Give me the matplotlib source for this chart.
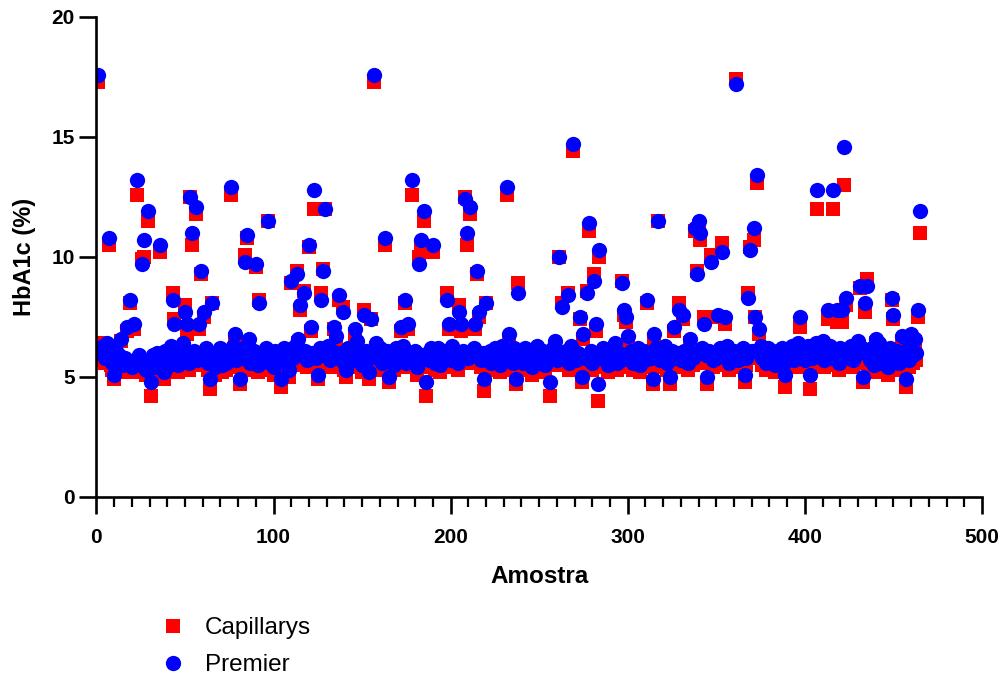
import matplotlib
matplotlib.use("Agg")
import matplotlib.pyplot as plt
import numpy as np

plt.rcParams['font.family'] = ['Liberation Sans', 'DejaVu Sans']

# HbA1c (%) per sample (rows of 15 samples)
capillarys = [
    17.3, 6.4, 5.7, 6.1, 5.6, 6.2, 10.5, 5.5, 5.3, 4.9, 5.8, 5.4, 5.6, 6.5, 5.2,
    5.5, 6.9, 5.3, 8.1, 5.2, 7.0, 5.4, 12.6, 5.6, 5.2, 9.9, 10.0, 5.1, 11.5, 5.5,
    4.2, 5.6, 5.1, 5.7, 5.3, 10.2, 5.5, 4.9, 5.9, 5.4, 5.2, 6.1, 8.5, 7.4, 5.6,
    5.2, 5.8, 5.4, 6.2, 8.0, 6.8, 5.3, 12.5, 10.5, 5.8, 11.8, 5.5, 7.0, 9.3, 5.6,
    7.5, 6.0, 5.3, 4.5, 8.1, 5.5, 5.1, 5.7, 5.5, 5.9, 5.2, 5.7, 5.3, 5.8, 5.6,
    12.6, 6.1, 6.6, 5.4, 5.8, 4.7, 5.5, 6.0, 10.1, 10.8, 6.4, 5.3, 5.6, 5.9, 9.6,
    5.2, 8.2, 5.6, 5.7, 5.4, 6.0, 11.5, 5.3, 5.7, 5.1, 5.8, 5.5, 5.6, 4.6, 5.5,
    5.9, 5.4, 5.7, 5.0, 8.9, 5.5, 6.1, 9.4, 6.4, 7.8, 5.6, 8.6, 5.9, 5.4, 10.4,
    6.9, 5.8, 12.0, 5.5, 4.9, 6.0, 8.5, 9.5, 12.0, 5.6, 6.0, 5.4, 5.9, 7.0, 6.5,
    5.5, 8.2, 5.7, 7.9, 5.3, 5.0, 5.9, 5.6, 5.8, 5.4, 6.8, 6.3, 5.6, 5.7, 5.2,
    7.8, 5.8, 5.4, 4.9, 7.4, 5.7, 17.3, 6.2, 5.5, 5.9, 5.3, 5.7, 10.5, 5.8, 4.8,
    5.5, 5.7, 5.3, 6.0, 5.4, 5.6, 6.9, 6.0, 8.1, 5.4, 7.0, 5.7, 12.6, 5.5, 5.8,
    5.1, 10.0, 10.5, 5.6, 11.5, 4.2, 5.8, 5.4, 5.9, 10.2, 5.3, 5.7, 6.0, 5.2, 5.8,
    5.5, 5.9, 8.5, 7.0, 5.4, 6.1, 5.6, 5.7, 5.3, 8.0, 6.9, 5.8, 12.5, 10.5, 5.6,
    11.8, 5.6, 5.9, 7.0, 9.3, 7.5, 5.4, 5.8, 4.4, 8.1, 5.5, 5.8, 5.3, 5.7, 5.9,
    5.4, 5.7, 5.2, 6.0, 5.6, 5.8, 12.6, 6.6, 5.6, 5.3, 5.9, 4.7, 8.9, 5.5, 5.8,
    5.3, 6.0, 5.6, 5.4, 5.9, 5.1, 5.7, 5.5, 6.0, 5.4, 5.6, 5.8, 5.2, 5.6, 5.7,
    4.2, 5.6, 5.9, 6.3, 5.5, 10.0, 5.7, 8.1, 5.5, 5.8, 8.5, 5.3, 6.0, 14.4, 5.6,
    5.4, 5.8, 7.4, 4.8, 6.6, 5.5, 8.6, 11.1, 5.8, 5.3, 9.3, 6.9, 4.0, 10.0, 5.6,
    5.9, 5.4, 5.7, 5.2, 5.6, 5.8, 5.5, 6.2, 5.3, 5.8, 5.4, 9.0, 7.6, 7.3, 6.5,
    5.6, 5.9, 5.3, 5.7, 5.5, 6.0, 5.2, 5.6, 5.8, 5.4, 8.1, 5.7, 5.5, 4.7, 6.6,
    5.9, 11.5, 5.4, 5.8, 5.5, 6.0, 5.3, 5.7, 4.7, 5.8, 6.9, 5.5, 5.7, 8.1, 5.4,
    7.4, 5.8, 5.6, 5.3, 6.4, 5.7, 5.5, 11.1, 9.4, 11.3, 10.7, 5.9, 7.5, 5.6, 4.7,
    5.8, 10.1, 5.4, 5.8, 5.5, 7.5, 5.9, 10.6, 5.6, 7.2, 6.1, 5.3, 5.7, 5.5, 5.9,
    17.4, 5.4, 5.7, 5.6, 5.9, 4.8, 5.5, 8.5, 10.4, 5.8, 10.7, 7.5, 13.1, 6.8, 6.0,
    5.5, 5.7, 5.3, 5.9, 5.6, 5.4, 5.8, 5.2, 5.6, 5.7, 5.4, 6.0, 5.3, 4.6, 5.6,
    5.8, 5.5, 6.0, 5.4, 5.8, 6.2, 7.1, 5.6, 5.9, 5.4, 5.7, 6.1, 4.5, 5.5, 5.8,
    6.1, 12.0, 5.6, 5.9, 6.2, 5.4, 5.8, 7.4, 6.0, 5.5, 12.0, 5.8, 7.3, 5.3, 5.9,
    7.3, 13.0, 8.0, 5.7, 5.5, 6.0, 5.4, 5.8, 5.6, 6.3, 8.7, 5.9, 4.8, 7.7, 9.1,
    5.7, 5.4, 5.9, 5.2, 6.4, 5.6, 6.2, 5.3, 5.8, 5.5, 5.7, 5.1, 5.9, 8.2, 7.4,
    5.6, 5.8, 5.3, 5.7, 6.5, 5.5, 4.6, 5.9, 5.4, 6.6, 5.6, 6.4, 5.7, 7.5, 11.0,
]

premier = [
    17.6, 6.2, 6.0, 6.3, 5.8, 6.4, 10.8, 5.9, 5.6, 5.1, 6.1, 5.7, 5.9, 6.6, 5.5,
    5.8, 7.1, 5.6, 8.2, 5.4, 7.2, 5.7, 13.2, 5.9, 5.5, 9.7, 10.7, 5.3, 11.9, 5.7,
    4.8, 5.9, 5.4, 6.0, 5.6, 10.5, 5.8, 5.2, 6.1, 5.7, 5.5, 6.3, 8.2, 7.2, 5.9,
    5.5, 6.0, 5.8, 6.4, 7.7, 7.2, 5.6, 12.5, 11.0, 6.1, 12.1, 5.7, 7.2, 9.4, 5.9,
    7.7, 6.2, 5.6, 4.9, 8.1, 5.8, 5.4, 6.0, 5.7, 6.2, 5.5, 5.9, 5.6, 6.1, 5.8,
    12.9, 6.3, 6.8, 5.7, 6.0, 4.9, 5.8, 6.2, 9.8, 10.9, 6.6, 5.6, 5.9, 6.1, 9.7,
    5.5, 8.1, 5.8, 6.0, 5.7, 6.2, 11.5, 5.6, 5.9, 5.4, 6.1, 5.7, 5.9, 4.9, 5.8,
    6.2, 5.6, 6.0, 5.3, 9.0, 5.8, 6.3, 9.3, 6.6, 8.0, 5.9, 8.5, 6.1, 5.7, 10.5,
    7.1, 6.0, 12.8, 5.8, 5.1, 6.2, 8.2, 9.4, 12.0, 5.9, 6.3, 5.7, 6.1, 7.1, 6.7,
    5.8, 8.4, 6.0, 7.7, 5.6, 5.3, 6.2, 5.9, 6.1, 5.7, 7.0, 6.5, 5.8, 6.0, 5.5,
    7.6, 6.1, 5.7, 5.2, 7.4, 6.0, 17.6, 6.4, 5.8, 6.2, 5.6, 5.9, 10.8, 6.1, 5.0,
    5.8, 6.0, 5.5, 6.2, 5.7, 5.9, 7.1, 6.3, 8.2, 5.6, 7.2, 6.0, 13.2, 5.8, 6.1,
    5.4, 9.7, 10.7, 5.9, 11.9, 4.8, 6.0, 5.7, 6.2, 10.5, 5.6, 5.9, 6.2, 5.5, 6.0,
    5.8, 6.1, 8.2, 7.2, 5.7, 6.3, 5.9, 6.0, 5.6, 7.7, 7.2, 6.1, 12.4, 11.0, 5.8,
    12.1, 5.9, 6.2, 7.2, 9.4, 7.7, 5.7, 6.0, 4.9, 8.1, 5.8, 6.1, 5.6, 5.9, 6.2,
    5.7, 6.0, 5.5, 6.3, 5.8, 6.1, 12.9, 6.8, 5.9, 5.6, 6.2, 4.9, 8.5, 5.8, 6.0,
    5.6, 6.2, 5.9, 5.7, 6.1, 5.4, 6.0, 5.8, 6.3, 5.6, 5.9, 6.1, 5.5, 5.8, 6.0,
    4.8, 5.9, 6.2, 6.5, 5.7, 10.0, 6.0, 7.9, 5.8, 6.1, 8.4, 5.6, 6.3, 14.7, 5.9,
    5.7, 6.0, 7.5, 5.0, 6.8, 5.8, 8.5, 11.4, 6.1, 5.6, 9.0, 7.2, 4.7, 10.3, 5.9,
    6.2, 5.7, 6.0, 5.5, 5.9, 6.1, 5.8, 6.4, 5.6, 6.0, 5.7, 8.9, 7.8, 7.5, 6.7,
    5.9, 6.1, 5.6, 6.0, 5.8, 6.2, 5.5, 5.9, 6.1, 5.7, 8.2, 6.0, 5.8, 4.9, 6.8,
    6.2, 11.5, 5.7, 6.0, 5.8, 6.3, 5.6, 5.9, 5.0, 6.1, 7.1, 5.8, 6.0, 7.8, 5.7,
    7.6, 6.1, 5.9, 5.6, 6.6, 6.0, 5.8, 11.2, 9.3, 11.5, 11.0, 6.2, 7.2, 5.9, 5.0,
    6.1, 9.8, 5.7, 6.0, 5.8, 7.6, 6.2, 10.2, 5.9, 7.5, 6.3, 5.6, 6.0, 5.8, 6.1,
    17.2, 5.7, 6.0, 5.9, 6.2, 5.1, 5.8, 8.3, 10.3, 6.1, 11.2, 7.5, 13.4, 7.0, 6.3,
    5.8, 6.0, 5.6, 6.2, 5.9, 5.7, 6.1, 5.5, 5.8, 6.0, 5.7, 6.2, 5.6, 5.1, 5.9,
    6.1, 5.8, 6.3, 5.7, 6.0, 6.4, 7.5, 5.9, 6.2, 5.7, 6.0, 6.3, 5.1, 5.8, 6.1,
    6.4, 12.8, 5.9, 6.2, 6.5, 5.7, 6.0, 7.8, 6.3, 5.8, 12.8, 6.1, 7.8, 5.6, 6.2,
    7.8, 14.6, 8.3, 6.0, 5.8, 6.3, 5.7, 6.1, 5.9, 6.5, 8.8, 6.2, 5.0, 8.1, 8.8,
    6.0, 5.7, 6.2, 5.5, 6.6, 5.9, 6.4, 5.6, 6.1, 5.8, 6.0, 5.4, 6.2, 8.3, 7.6,
    5.9, 6.1, 5.6, 6.0, 6.7, 5.8, 4.9, 6.2, 5.7, 6.8, 5.9, 6.6, 6.0, 7.8, 11.9,
]

amostra = np.arange(1, len(premier) + 1)

fig = plt.figure(figsize=(10.03, 6.78), dpi=100)
ax = fig.add_axes([96.4 / 1003, 181 / 678, 885.6 / 1003, 480 / 678])

ax.plot(amostra, capillarys, linestyle='none', marker='s', markersize=10.3,
        color='#ff0000', markeredgewidth=0, label='Capillarys')
ax.plot(amostra, premier, linestyle='none', marker='o', markersize=11,
        color='#0000ff', markeredgewidth=0, label='Premier')

ax.set_xlim(0, 500)
ax.set_ylim(0, 20)
ax.set_xticks(np.arange(0, 501, 100))
ax.set_xticks(np.arange(0, 501, 10), minor=True)
ax.set_yticks(np.arange(0, 21, 5))

for s in ['top', 'right']:
    ax.spines[s].set_visible(False)
for s in ['left', 'bottom']:
    ax.spines[s].set_linewidth(1.9)

ax.tick_params(axis='both', which='major', length=12, width=1.9, labelsize=15)
ax.tick_params(axis='y', which='major', pad=3.5)
ax.tick_params(axis='x', which='major', pad=10)
ax.tick_params(axis='x', which='minor', length=7, width=1.6)
for lbl in ax.get_xticklabels() + ax.get_yticklabels():
    lbl.set_fontweight('bold')

ax.set_xlabel('Amostra', fontsize=17.5, fontweight='bold', labelpad=13)
ax.set_ylabel('HbA1c (%)', fontsize=17, fontweight='bold', labelpad=11)

fig.legend(loc='upper left', bbox_to_anchor=(0.1605, 0.0897),
           frameon=False, fontsize=17.5, handlelength=1.0,
           handletextpad=0.8, labelspacing=0.62, borderpad=0,
           borderaxespad=0, markerscale=1.0)

fig.savefig('out.png', dpi=100)
